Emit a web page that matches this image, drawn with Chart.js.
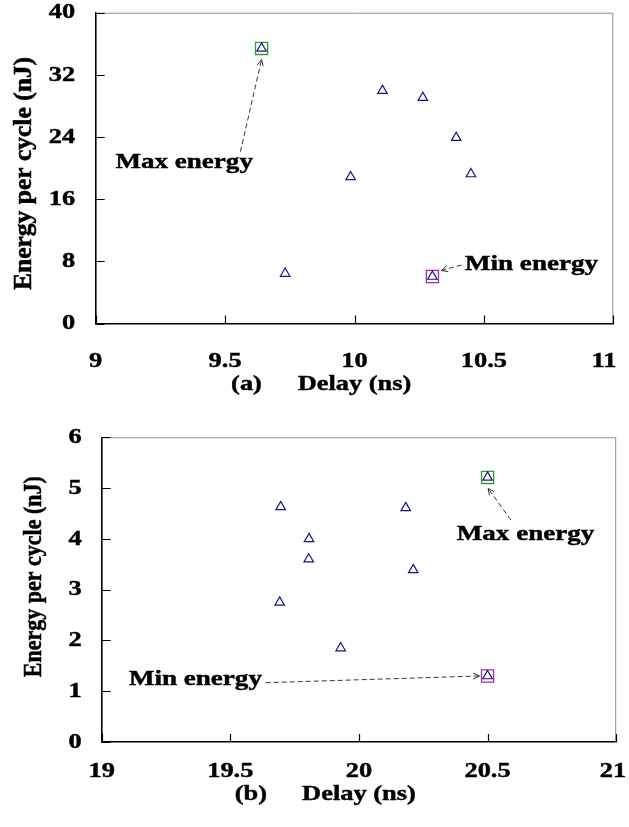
<!DOCTYPE html>
<html>
<head>
<meta charset="utf-8">
<script src="https://cdn.jsdelivr.net/npm/chart.js@4.4.1/dist/chart.umd.min.js"></script>
<style>
  html, body { margin: 0; padding: 0; background: #fff; }
  .panel { position: absolute; left: 0; width: 629px; }
  #wrapA { top: 0; height: 410px; }
  #wrapB { top: 410px; height: 417px; }
  .fontprobe { position: absolute; left: -999px; top: 0; font: bold 22px "Liberation Serif"; }
</style>
</head>
<body>
<span class="fontprobe">Energy 0123456789</span>
<div class="panel" id="wrapA"><canvas id="chartA"></canvas></div>
<div class="panel" id="wrapB"><canvas id="chartB"></canvas></div>
<script>
// ---- Panel (a) ----
const delayA  = [9.641, 9.732, 9.985, 10.108, 10.264, 10.393, 10.45, 10.301];
const energyA = [35.4, 6.43, 18.86, 29.97, 29.07, 23.92, 19.24, 6.05];
const xTicksA = [9, 9.5, 10, 10.5, 11];
const yTicksA = [0, 8, 16, 24, 32, 40];

// ---- Panel (b) ----
const delayB  = [20.5, 19.696, 20.182, 19.806, 19.805, 20.211, 19.692, 19.929, 20.5];
const energyB = [5.21, 4.63, 4.61, 4.00, 3.60, 3.39, 2.75, 1.85, 1.30];
const xTicksB = [19, 19.5, 20, 20.5, 21];
const yTicksB = [0, 1, 2, 3, 4, 5, 6];

// ---- Text ----
const xTitle = 'Delay (ns)';
const yTitle = 'Energy per cycle (nJ)';
const maxLabel = 'Max energy';
const minLabel = 'Min energy';

const SERIF = '"Liberation Serif", "Times New Roman", Times, serif';

function drawText(ctx, text, x, y, o) {
  ctx.save();
  ctx.translate(x, y);
  if (o.rot) ctx.rotate(o.rot);
  ctx.scale(o.sx || 1, o.sy || 1);
  ctx.font = 'bold ' + (o.size || 22) + 'px ' + SERIF;
  ctx.textAlign = o.align || 'center';
  ctx.textBaseline = o.baseline || 'alphabetic';
  ctx.fillStyle = '#000';
  ctx.strokeStyle = '#000';
  ctx.lineWidth = 0.45;
  ctx.fillText(text, 0, 0);
  ctx.strokeText(text, 0, 0);
  ctx.restore();
}

function textWidth(ctx, text, size, sx) {
  ctx.save();
  ctx.font = 'bold ' + size + 'px ' + SERIF;
  const w = ctx.measureText(text).width * sx;
  ctx.restore();
  return w;
}

function drawArrow(ctx, x0, y0, x1, y1) {
  ctx.save();
  ctx.strokeStyle = '#333';
  ctx.lineWidth = 1;
  ctx.setLineDash([5, 3]);
  ctx.beginPath();
  ctx.moveTo(x0, y0);
  ctx.lineTo(x1, y1);
  ctx.stroke();
  ctx.setLineDash([]);
  const a = Math.atan2(y1 - y0, x1 - x0);
  const len = 7, spread = 0.45;
  ctx.beginPath();
  ctx.moveTo(x1 - len * Math.cos(a - spread), y1 - len * Math.sin(a - spread));
  ctx.lineTo(x1, y1);
  ctx.lineTo(x1 - len * Math.cos(a + spread), y1 - len * Math.sin(a + spread));
  ctx.stroke();
  ctx.restore();
}

// Frame, inward tick marks, tick labels, axis titles and call-outs
const panelDecor = {
  id: 'panelDecor',
  beforeDatasetsDraw(chart) {
    const {ctx, chartArea: ca, scales: {x, y}} = chart;
    ctx.save();
    ctx.strokeStyle = '#8c8c8c';
    ctx.lineWidth = 1;
    ctx.beginPath();
    ctx.moveTo(ca.left, ca.top + 0.5);
    ctx.lineTo(ca.right - 0.5, ca.top + 0.5);
    ctx.lineTo(ca.right - 0.5, ca.bottom);
    ctx.stroke();
    ctx.strokeStyle = '#000';
    ctx.lineWidth = 1.2;
    ctx.beginPath();
    y.ticks.forEach(t => {
      const py = Math.round(y.getPixelForValue(t.value)) + 0.5;
      ctx.moveTo(ca.left, py);
      ctx.lineTo(ca.left + 9, py);
    });
    x.ticks.forEach(t => {
      const px = Math.round(x.getPixelForValue(t.value)) + 0.5;
      ctx.moveTo(px, ca.bottom);
      ctx.lineTo(px, ca.bottom - 8);
    });
    ctx.stroke();
    ctx.restore();
  },
  afterDatasetsDraw(chart, args, o) {
    const {ctx, chartArea: ca, scales: {x, y}} = chart;
    const SX = 1.2;
    // y tick labels
    y.ticks.forEach(t => {
      drawText(ctx, t.label, ca.left - o.yLabelGap, y.getPixelForValue(t.value),
        {size: 22, sx: SX, align: 'right', baseline: 'middle'});
    });
    // x tick labels; the last one is pulled in from the canvas edge
    x.ticks.forEach(t => {
      const cx = Math.min(x.getPixelForValue(t.value), o.maxLabelX);
      drawText(ctx, t.label, cx, o.tickY, {size: 22, sx: SX});
    });
    // axis titles
    const midX = (ca.left + ca.right) / 2;
    drawText(ctx, xTitle, midX, o.titleY, {size: 22, sx: SX});
    drawText(ctx, o.tag, midX + o.tagDX, o.titleY, {size: 22, sx: SX});
    drawText(ctx, yTitle, o.yTitleX, o.yTitleY,
      {size: 22, rot: -Math.PI / 2, sx: o.yAlong, sy: o.yAcross, baseline: 'middle'});
    // call-outs for the extreme points
    o.notes.forEach(n => {
      const ds = chart.data.datasets[n.dataset];
      const pt = ds.data[0];
      const px = x.getPixelForValue(pt.x), py = y.getPixelForValue(pt.y);
      drawArrow(ctx, n.tail[0], n.tail[1], px + n.head[0], py + n.head[1]);
      drawText(ctx, n.text, n.x, n.y, {size: 22, sx: 1.23, align: 'left'});
    });
  }
};

function makePanel(canvasId, delay, energy, xTicks, yTicks, area, decor) {
  let iMax = 0, iMin = 0;
  energy.forEach((v, i) => {
    if (v > energy[iMax]) iMax = i;
    if (v < energy[iMin]) iMin = i;
  });
  const pts = delay.map((d, i) => ({x: d, y: energy[i]}));
  const canvas = document.getElementById(canvasId);
  return new Chart(canvas, {
    type: 'scatter',
    data: {
      datasets: [
        {
          label: 'Designs',
          data: pts,
          pointStyle: 'triangle',
          pointRadius: 5.5,
          pointBorderWidth: 1.2,
          borderColor: '#16168c',
          backgroundColor: 'rgba(0,0,0,0)'
        },
        {
          label: maxLabel,
          data: [pts[iMax]],
          pointStyle: 'rect',
          pointRadius: 8.6,
          pointBorderWidth: 1.3,
          borderColor: '#2f9e2f',
          backgroundColor: 'rgba(0,0,0,0)'
        },
        {
          label: minLabel,
          data: [pts[iMin]],
          pointStyle: 'rect',
          pointRadius: 8.6,
          pointBorderWidth: 1.3,
          borderColor: '#a2309c',
          backgroundColor: 'rgba(0,0,0,0)'
        }
      ]
    },
    options: {
      responsive: true,
      maintainAspectRatio: false,
      animation: false,
      events: [],
      layout: {padding: {left: 0, top: area.top, right: area.right, bottom: 0}},
      plugins: {
        legend: {display: false},
        tooltip: {enabled: false},
        panelDecor: decor
      },
      scales: {
        x: {
          type: 'linear',
          min: xTicks[0],
          max: xTicks[xTicks.length - 1],
          afterBuildTicks: s => { s.ticks = xTicks.map(v => ({value: v})); },
          afterFit: s => { s.height = area.xHeight; },
          ticks: {display: false, callback: v => String(v)},
          grid: {display: false},
          border: {display: true, color: '#000', width: 1.6}
        },
        y: {
          type: 'linear',
          min: yTicks[0],
          max: yTicks[yTicks.length - 1],
          afterBuildTicks: s => { s.ticks = yTicks.map(v => ({value: v})); },
          afterFit: s => { s.width = area.yWidth; },
          ticks: {display: false, callback: v => String(v)},
          grid: {display: false},
          border: {display: true, color: '#000', width: 1.6}
        }
      }
    },
    plugins: [panelDecor]
  });
}

function buildAll() {
  makePanel('chartA', delayA, energyA, xTicksA, yTicksA,
    {top: 12.7, right: 15.7, yWidth: 95.7, xHeight: 86.5},
    {
      tag: '(a)', tagDX: -108, titleY: 390, tickY: 367, maxLabelX: 604, yLabelGap: 20.6,
      yTitleX: 25, yTitleY: 173.5, yAlong: 1.16, yAcross: 1.1,
      notes: [
        {dataset: 1, text: maxLabel, x: 115.4, y: 168.3, tail: [240.4, 151.7], head: [0, 11]},
        {dataset: 2, text: minLabel, x: 465, y: 269.5, tail: [461.5, 265], head: [9, -6]}
      ]
    });

  makePanel('chartB', delayB, energyB, xTicksB, yTicksB,
    {top: 27.3, right: 12.8, yWidth: 101.65, xHeight: 85},
    {
      tag: '(b)', tagDX: -108, titleY: 390, tickY: 367, maxLabelX: 613, yLabelGap: 20,
      yTitleX: 34.2, yTitleY: 166.7, yAlong: 1.0, yAcross: 1.15,
      notes: [
        {dataset: 1, text: maxLabel, x: 456.8, y: 130, tail: [510.9, 110], head: [0.6, 11]},
        {dataset: 2, text: minLabel, x: 128.9, y: 275, tail: [265.8, 272.7], head: [-8, 0]}
      ]
    });
}

// Wait for the serif face so canvas text uses it on first paint
let built = false;
function buildOnce() { if (!built) { built = true; buildAll(); } }
if (document.fonts && document.fonts.load) {
  document.fonts.load('bold 22px "Liberation Serif"').then(buildOnce, buildOnce);
  setTimeout(buildOnce, 400);
} else {
  buildOnce();
}
</script>
</body>
</html>
